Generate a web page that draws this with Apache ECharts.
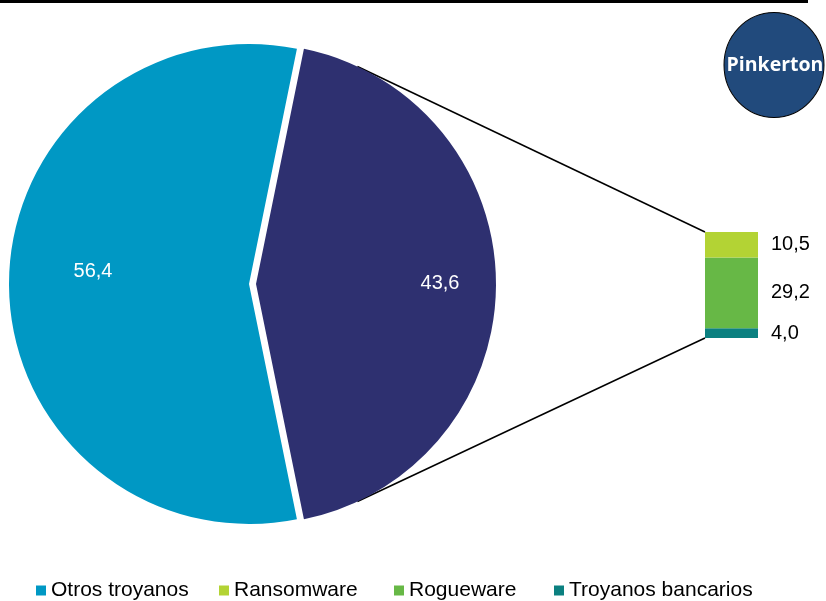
<!DOCTYPE html>
<html>
<head>
<meta charset="utf-8">
<script src="https://cdn.jsdelivr.net/npm/echarts@6/dist/echarts.min.js"></script>
<style>html,body{margin:0;padding:0;background:#fff}#c{width:826px;height:601px}</style>
</head>
<body>
<div id="c"></div>
<script>
// Data
const pieNames = ['Otros', 'Otros troyanos'];
const pieValues = [43.6, 56.4];
const barNames = ['Troyanos bancarios', 'Rogueware', 'Ransomware'];
const barValues = [4.0, 29.2, 10.5];
const legendNames = ['Otros troyanos', 'Ransomware', 'Rogueware', 'Troyanos bancarios'];

const pieColors = ['#2e3070', '#0098c4'];
const barColors = ['#0b8080', '#67b846', '#b3d334'];
const fmt = v => v.toFixed(1).replace('.', ',');
const FONT = '"Liberation Sans", Arial, sans-serif';

const PIE_CX = 249, PIE_CY = 284, PIE_R = 240, OFFSET = 7;
const GRID_L = 705, GRID_T = 232, GRID_W = 53, GRID_H = 106;
const barTotal = barValues.reduce((a, b) => a + b, 0);
const startAngle = pieValues[0] / (pieValues[0] + pieValues[1]) * 180;

const labelOffsets = [[61, -1], [-33, -13]];
const legendLefts = [36, 219, 394, 554];

const chart = echarts.init(document.getElementById('c'), null, {renderer: 'canvas'});

const option = {
  animation: false,
  backgroundColor: '#fff',
  textStyle: {fontFamily: FONT},
  legend: legendNames.map((n, i) => ({
    data: [n],
    left: legendLefts[i], top: 580, padding: 0,
    icon: 'rect', itemWidth: 10, itemHeight: 10,
    selectedMode: false,
    textStyle: {fontSize: 21, color: '#000', fontFamily: FONT}
  })),
  grid: {left: GRID_L, top: GRID_T, width: GRID_W, height: GRID_H},
  xAxis: {type: 'category', data: [''], show: false},
  yAxis: {type: 'value', min: 0, max: barTotal, show: false},
  series: [
    {
      type: 'pie',
      center: [PIE_CX, PIE_CY],
      radius: PIE_R,
      startAngle: startAngle,
      clockwise: true,
      selectedMode: 'single',
      selectedOffset: OFFSET,
      emphasis: {disabled: true},
      label: {position: 'inside', color: '#fff', fontSize: 20, fontFamily: FONT,
              formatter: p => fmt(p.value)},
      labelLine: {show: false},
      data: pieNames.map((n, i) => ({
        name: n, value: pieValues[i], selected: i === 0,
        itemStyle: {color: pieColors[i]},
        label: {offset: labelOffsets[i]},
        select: {label: {offset: labelOffsets[i]}}
      }))
    },
    ...barNames.map((n, i) => ({
      type: 'bar', name: n, stack: 'b', barWidth: '100%',
      itemStyle: {color: barColors[i]},
      emphasis: {disabled: true},
      label: {show: true, position: 'right', distance: 13, color: '#000', fontSize: 20,
              fontFamily: FONT, formatter: p => fmt(p.value)},
      data: [barValues[i]]
    }))
  ]
};
chart.setOption(option);

// Connector lines from the exploded slice to the bar
const ang = 65 * Math.PI / 180;
const vx = PIE_CX + OFFSET;
const topPt = chart.convertToPixel({gridIndex: 0}, [0, barTotal]);
const botPt = chart.convertToPixel({gridIndex: 0}, [0, 0]);
const barLeft = topPt[0] - GRID_W / 2;

chart.setOption({
  graphic: [
    {type: 'rect', shape: {x: 0, y: 0, width: 808, height: 3}, style: {fill: '#000'}},
    {type: 'line', shape: {x1: vx + PIE_R * Math.cos(ang), y1: PIE_CY - PIE_R * Math.sin(ang), x2: barLeft, y2: topPt[1]},
     style: {stroke: '#000', lineWidth: 1.5}},
    {type: 'line', shape: {x1: vx + PIE_R * Math.cos(ang), y1: PIE_CY + PIE_R * Math.sin(ang), x2: barLeft, y2: botPt[1]},
     style: {stroke: '#000', lineWidth: 1.5}},
    {type: 'circle', shape: {cx: 774, cy: 65, r: 50}, scaleY: 1.05, originX: 774, originY: 65,
     style: {fill: '#214a7c', stroke: '#000', lineWidth: 1}},
    {type: 'text', x: 775, y: 65,
     style: {text: 'Pinkerton', fill: '#fff', font: 'bold 19.5px "Open Sans", sans-serif',
             textAlign: 'center', textVerticalAlign: 'middle'}}
  ]
});
</script>
</body>
</html>
